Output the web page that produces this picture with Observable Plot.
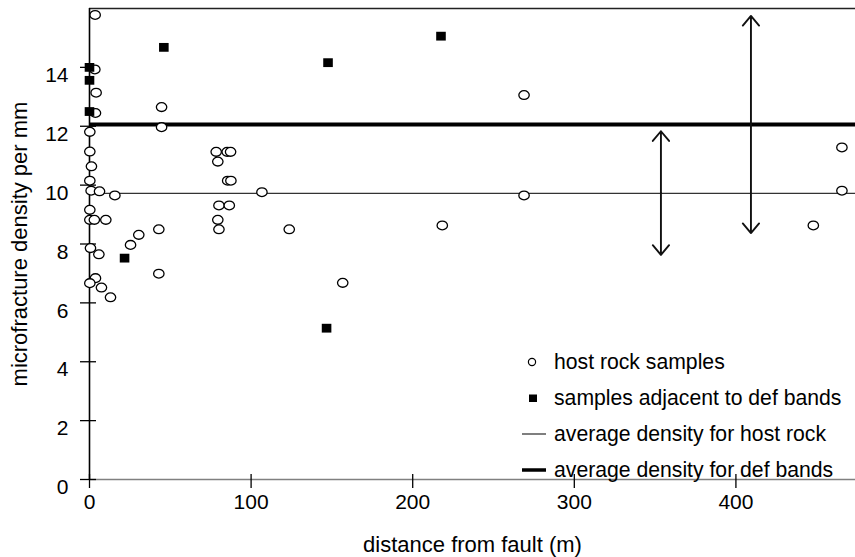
<!DOCTYPE html>
<html>
<head>
<meta charset="utf-8">
<script src="https://cdn.jsdelivr.net/npm/d3@7"></script>
<script src="https://cdn.jsdelivr.net/npm/@observablehq/plot@0.6"></script>
<style>
  html, body { margin: 0; padding: 0; background: #fff; }
  #wrap { position: relative; width: 855px; height: 557px; font-family: Arial, "Liberation Sans", sans-serif; }
  #legend { position: absolute; left: 521px; top: 344px; font-size: 21.2px; color: #000; }
  #legend .row { height: 36px; display: flex; align-items: center; }
  #legend svg { width: 28px; height: 20px; margin-right: 5px; }
</style>
</head>
<body>
<div id="wrap"></div>
<script>
// host rock samples
const hostDistance = [3.5, 3.3, 4.1, 3.7, 44.6, 44.6, 0.2, 0.2, 1.2, 0.2, 1.0, 6.2, 15.7, 0.2, 0.2, 3.0, 10.1, 42.9, 30.5, 25.4, 0.6, 5.8, 42.9, 3.7, 0.2, 7.4, 13.0, 78.4, 85.2, 87.3, 79.4, 85.5, 87.5, 106.7, 80.1, 86.5, 79.4, 80.1, 123.6, 156.7, 218.3, 268.9, 268.9, 465.6, 465.6, 447.9];
const hostDensity  = [15.78, 13.93, 13.14, 12.45, 12.65, 11.97, 11.81, 11.14, 10.64, 10.15, 9.81, 9.79, 9.65, 9.16, 8.82, 8.82, 8.82, 8.50, 8.31, 7.97, 7.86, 7.65, 6.99, 6.84, 6.67, 6.52, 6.19, 11.13, 11.13, 11.13, 10.80, 10.15, 10.15, 9.76, 9.31, 9.31, 8.82, 8.50, 8.50, 6.68, 8.63, 13.06, 9.65, 11.28, 9.81, 8.63];
// samples adjacent to deformation bands
const bandDistance = [0, 0, 0, 46, 147.6, 217.5, 21.7, 146.7];
const bandDensity  = [14.0, 13.56, 12.5, 14.68, 14.16, 15.06, 7.52, 5.14];
// averages
const avgHostRock = [9.72];
const avgDefBands = [12.06];
// double arrows
const arrowDistance = [353.6, 409.3];
const arrowLow  = [7.63, 8.37];
const arrowHigh = [11.83, 15.75];
// axes
const xTicks = [0, 100, 200, 300, 400];
const yTicks = [0, 2, 4, 6, 8, 10, 12, 14];
const xDomain = [0, 474];
const yDomain = [0, 16];

const host = hostDistance.map((x, i) => ({x, y: hostDensity[i]}));
const bands = bandDistance.map((x, i) => ({x, y: bandDensity[i]}));
// each double arrow = two arrows drawn outward from its midpoint
const arrowHalves = arrowDistance.flatMap((x, i) => {
  const mid = (arrowLow[i] + arrowHigh[i]) / 2;
  return [{x, from: mid, to: arrowHigh[i]}, {x, from: mid, to: arrowLow[i]}];
});

const ellipse = {
  draw(ctx) {
    const rx = 5.2, ry = 4.4, k = 0.5523;
    ctx.moveTo(rx, 0);
    ctx.bezierCurveTo(rx, ry * k, rx * k, ry, 0, ry);
    ctx.bezierCurveTo(-rx * k, ry, -rx, ry * k, -rx, 0);
    ctx.bezierCurveTo(-rx, -ry * k, -rx * k, -ry, 0, -ry);
    ctx.bezierCurveTo(rx * k, -ry, rx, -ry * k, rx, 0);
    ctx.closePath();
  }
};
const rect = {
  draw(ctx) {
    const w = 4.8, h = 4.4;
    ctx.moveTo(-w, -h); ctx.lineTo(w, -h); ctx.lineTo(w, h); ctx.lineTo(-w, h); ctx.closePath();
  }
};

const chart = Plot.plot({
  width: 855,
  height: 557,
  marginLeft: 89,
  marginTop: 8,
  marginBottom: 78,
  marginRight: 0,
  style: {fontFamily: "Arial, 'Liberation Sans', sans-serif", fontSize: "21px", color: "#000", background: "#fff"},
  x: {domain: xDomain},
  y: {domain: yDomain},
  marks: [
    Plot.ruleY(yDomain.slice(1), {stroke: "#222", strokeWidth: 1.3}),
    Plot.ruleY([0], {stroke: "#808080", strokeWidth: 1.6}),
    Plot.ruleX([0], {stroke: "#000", strokeWidth: 1.6}),
    Plot.ruleY(avgHostRock, {stroke: "#333", strokeWidth: 1.3}),
    Plot.ruleY(avgDefBands, {stroke: "#000", strokeWidth: 4}),
    Plot.arrow(arrowHalves, {x: "x", y1: "from", y2: "to", stroke: "#111", strokeWidth: 1.9, headLength: 10, headAngle: 80}),
    Plot.axisY({ticks: yTicks, tickSize: 16, dx: 7, tickFormat: () => "", label: null, strokeWidth: 1.3}),
    Plot.axisY({ticks: yTicks, tickSize: 0, tickPadding: 21, dy: 8, fontSize: 21,
      label: "microfracture density per mm", labelAnchor: "center", labelOffset: 78, labelArrow: "none"}),
    Plot.axisX({ticks: xTicks, tickSize: 14, dy: -5, tickFormat: () => "", label: null, strokeWidth: 1.3}),
    Plot.axisX({ticks: xTicks, tickSize: 0, tickPadding: 15, fontSize: 21,
      label: "distance from fault (m)", labelAnchor: "center", labelOffset: 72, labelArrow: "none"}),
    Plot.dot(host, {x: "x", y: "y", symbol: ellipse, r: 5, fill: "#fff", stroke: "#000", strokeWidth: 1.3}),
    Plot.dot(bands, {x: "x", y: "y", symbol: rect, r: 5, fill: "#000", stroke: "none"})
  ]
});

const wrap = document.getElementById("wrap");
wrap.appendChild(chart);
// larger axis titles
chart.querySelectorAll("g[aria-label='y-axis label'] text, g[aria-label='x-axis label'] text").forEach(t => t.setAttribute("font-size", "22"));

const legendItems = [
  {label: "host rock samples", kind: "circle"},
  {label: "samples adjacent to def bands", kind: "square"},
  {label: "average density for host rock", kind: "thin"},
  {label: "average density for def bands", kind: "thick"}
];
const legend = document.createElement("div");
legend.id = "legend";
for (const item of legendItems) {
  const row = document.createElement("div");
  row.className = "row";
  let sym = "";
  if (item.kind === "circle") sym = '<circle cx="11" cy="10" r="3.6" fill="#fff" stroke="#000" stroke-width="1.2"/>';
  if (item.kind === "square") sym = '<rect x="8" y="6.5" width="8" height="7.5" fill="#000"/>';
  if (item.kind === "thin") sym = '<line x1="1" x2="25" y1="10" y2="10" stroke="#555" stroke-width="1.5"/>';
  if (item.kind === "thick") sym = '<line x1="1" x2="25" y1="10" y2="10" stroke="#000" stroke-width="3.5"/>';
  row.innerHTML = '<svg viewBox="0 0 28 20">' + sym + '</svg><span>' + item.label + '</span>';
  legend.appendChild(row);
}
wrap.appendChild(legend);
</script>
</body>
</html>
